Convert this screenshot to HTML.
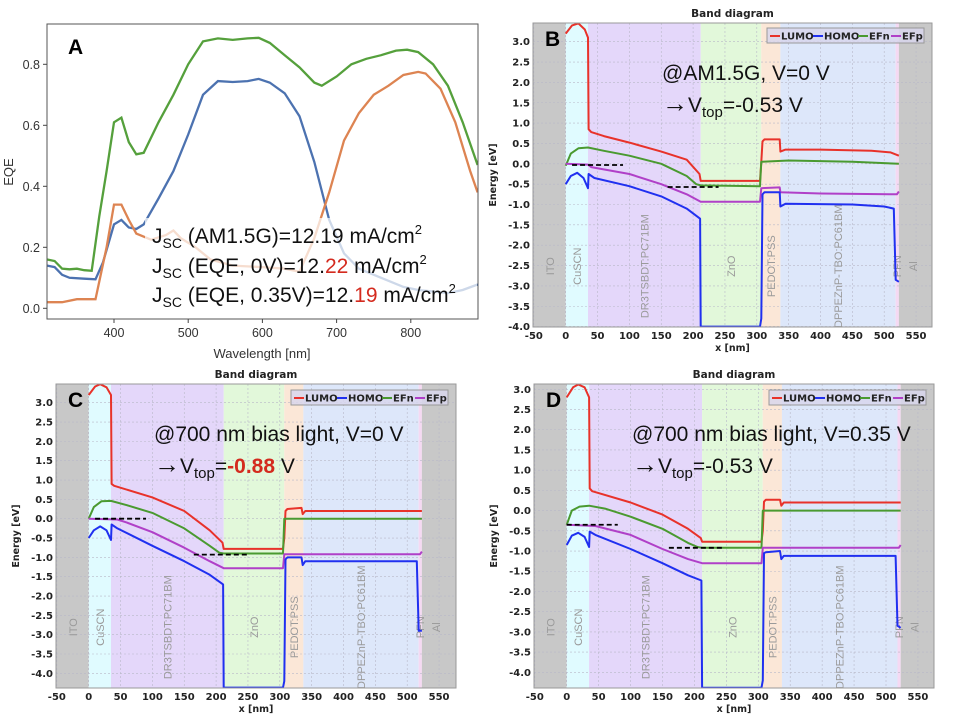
<!DOCTYPE html>
<html><head><meta charset="utf-8">
<style>
html,body{margin:0;padding:0;background:#fff;}
svg{display:block;}
</style></head>
<body>
<svg id="fig" width="963" height="724" viewBox="0 0 963 724" xmlns="http://www.w3.org/2000/svg">
</svg>
<script>
// ===== Panel A data (EQE vs wavelength) =====
const eqeXTicks = [400, 500, 600, 700, 800];
const eqeYTicks = [0.0, 0.2, 0.4, 0.6, 0.8];
const greenWl = [310,320,330,340,350,360,370,380,390,400,410,420,430,440,460,480,500,520,540,560,580,595,610,630,650,670,680,700,720,740,760,780,795,810,830,850,870,890];
const greenEqe = [.16,.155,.13,.128,.13,.125,.123,.3,.45,.61,.625,.545,.505,.51,.61,.7,.8,.875,.885,.88,.885,.887,.87,.83,.79,.74,.73,.76,.8,.818,.83,.845,.848,.84,.8,.73,.61,.47];
const blueWl = [310,320,330,340,360,375,385,400,410,420,430,440,460,480,500,520,540,560,580,595,610,630,650,670,690,710,730,760,790,810,830,850,870,890];
const blueEqe = [.14,.135,.11,.1,.097,.095,.15,.275,.29,.265,.26,.275,.36,.45,.57,.7,.745,.742,.745,.752,.74,.705,.63,.48,.29,.18,.13,.1,.07,.06,.055,.05,.06,.078];
const orangeWl = [310,330,350,370,375,390,400,410,420,430,450,470,480,490,510,530,560,600,630,650,670,690,710,730,750,770,790,810,820,840,860,880,890];
const orangeEqe = [.02,.02,.03,.03,.03,.2,.34,.34,.29,.245,.225,.24,.255,.23,.2,.16,.14,.135,.13,.12,.23,.38,.55,.64,.7,.73,.765,.775,.77,.72,.61,.45,.38];

// ===== Band diagram data =====
const bandXTicks = [-50,0,50,100,150,200,250,300,350,400,450,500,550];
const layerNames = ["ITO","CuSCN","DR3TSBDT:PC71BM","ZnO","PEDOT:PSS","DPPEZnP-TBO:PC61BM","PFN","Al"];
const layerStart = [-60,0,35,212,307,337,518,523];
const layerEnd = [0,35,212,307,337,518,523,600];
const layerColors = ["#c8c8c8","#e0fbff","#e4d7fa","#e2f8da","#fbe7d7","#dde7fa","#f5d9f3","#c8c8c8"];

const bX_L = [0,10,20,30,35,36,40,60,100,150,190,210,212,305,307,309,312,336,337,345,400,480,510,523];
const bY_L = [3.2,3.4,3.45,3.3,3.1,0.85,0.78,0.68,0.52,0.3,0.1,-0.25,-0.42,-0.42,0.05,0.55,0.6,0.6,0.3,0.35,0.35,0.32,0.28,0.2];
const bX_H = [0,8,18,28,35,36,45,100,150,190,211,212,305,307,309,312,336,337,345,450,500,515,518,523];
const bY_H = [-0.5,-0.3,-0.22,-0.35,-0.6,-0.25,-0.35,-0.55,-0.8,-1.1,-1.35,-4.0,-4.0,-3.8,-0.75,-0.7,-0.7,-1.05,-0.98,-1.0,-1.05,-1.1,-2.85,-2.9];
const bX_N = [0,8,20,35,60,100,150,190,205,212,305,307,350,450,523];
const bY_N = [-0.05,0.25,0.38,0.4,0.32,0.2,0.0,-0.3,-0.5,-0.53,-0.55,0.05,0.08,0.05,0.0];
const bX_P = [0,35,40,100,150,190,212,305,307,336,337,400,520,523];
const bY_P = [0,-0.02,-0.08,-0.25,-0.5,-0.75,-0.93,-0.93,-0.6,-0.58,-0.7,-0.73,-0.75,-0.68];
const bDashX1 = [10,160], bDashX2 = [90,240], bDashY = [-0.03,-0.57];

const cX_L = [0,10,18,28,35,36,40,100,150,190,210,212,305,307,309,312,334,336,340,523];
const cY_L = [3.2,3.42,3.48,3.4,3.2,0.9,0.85,0.55,0.2,-0.3,-0.62,-0.78,-0.78,-0.5,0.2,0.25,0.28,0.12,0.2,0.2];
const cX_H = [0,8,18,28,35,36,45,100,150,190,211,212,305,307,309,312,334,336,340,515,518,523];
const cY_H = [-0.5,-0.3,-0.2,-0.3,-0.55,-0.15,-0.25,-0.7,-1.1,-1.45,-1.7,-4.37,-4.37,-4.2,-1.05,-1.0,-1.0,-1.2,-1.1,-1.1,-2.9,-2.9];
const cX_N = [0,8,20,35,60,100,150,190,205,212,305,307,523];
const cY_N = [0,0.3,0.45,0.46,0.35,0.15,-0.25,-0.7,-0.88,-0.9,-0.9,0.0,0.0];
const cX_P = [0,45,60,100,150,190,212,305,307,520,523];
const cY_P = [0,-0.02,-0.1,-0.35,-0.75,-1.1,-1.28,-1.28,-0.92,-0.92,-0.85];
const cDashX1 = [10,165], cDashX2 = [90,250], cDashY = [0.0,-0.93];

const dX_L = [0,10,18,28,35,36,40,100,150,190,210,212,305,307,309,312,334,336,340,523];
const dY_L = [2.8,3.05,3.12,3.05,2.8,0.55,0.48,0.2,-0.1,-0.45,-0.68,-0.77,-0.77,-0.5,0.22,0.27,0.27,0.12,0.2,0.2];
const dX_H = [0,8,18,28,35,36,45,100,150,190,211,212,305,307,309,312,334,336,340,515,518,523];
const dY_H = [-0.85,-0.62,-0.55,-0.65,-0.9,-0.52,-0.6,-0.95,-1.3,-1.6,-1.73,-4.38,-4.38,-4.2,-1.05,-1.03,-1.0,-1.2,-1.12,-1.12,-2.85,-2.9];
const dX_N = [0,8,20,35,60,100,150,190,205,212,305,307,523];
const dY_N = [-0.35,0.0,0.1,0.12,0.05,-0.15,-0.45,-0.8,-0.9,-0.92,-0.92,0,0];
const dX_P = [0,45,100,150,190,212,305,307,520,523];
const dY_P = [-0.35,-0.38,-0.6,-0.95,-1.2,-1.3,-1.3,-0.92,-0.92,-0.85];
const dDashX1 = [0,160], dDashX2 = [80,245], dDashY = [-0.35,-0.92];

const NS = "http://www.w3.org/2000/svg";
const svg = document.getElementById("fig");
function mk(tag, attrs, parent, text){
  const e = document.createElementNS(NS, tag);
  for (const k in attrs) e.setAttribute(k, attrs[k]);
  if (text !== undefined) e.textContent = text;
  (parent || svg).appendChild(e);
  return e;
}
function pathFrom(xs, ys, sx, sy){
  let d = "";
  for (let i = 0; i < xs.length; i++) d += (i ? "L" : "M") + sx(xs[i]).toFixed(1) + "," + sy(ys[i]).toFixed(1);
  return d;
}

// ===== Panel A =====
(function(){
  const g = mk("g", {});
  
  
  const L=47, R=478, T=24, B=319;
  const sx = v => 114 + (v - 400) * 0.742;
  const sy = v => 308.3 - v * 305;
  const cp = mk("clipPath", {id:"clipA"}, g);
  mk("rect", {x:L, y:T, width:R-L, height:B-T}, cp);
  const series = [[greenWl, greenEqe, "#55a03c", "eqe-green"],[blueWl, blueEqe, "#4c72b0", "eqe-blue"],[orangeWl, orangeEqe, "#dd8452", "eqe-orange"]];
  for (const s of series){
    const p = mk("path", {d: pathFrom(s[0], s[1], sx, sy), fill:"none", stroke:s[2], "stroke-width":2.3, "clip-path":"url(#clipA)"}, g);
    
    
  }
  const fr = mk("rect", {x:L, y:T, width:R-L, height:B-T, fill:"none", stroke:"#555", "stroke-width":1}, g);
  
  
  for (const t of eqeXTicks){
    mk("line", {x1:sx(t), x2:sx(t), y1:B, y2:B+4, stroke:"#444"}, g);
    const tl = mk("text", {x:sx(t), y:B+18, "text-anchor":"middle", "font-size":12.5, fill:"#333", "font-family":"Liberation Sans, sans-serif"}, g, String(t));
    
    
  }
  for (const t of eqeYTicks){
    mk("line", {x1:L-4, x2:L, y1:sy(t), y2:sy(t), stroke:"#444"}, g);
    const tl = mk("text", {x:L-7, y:sy(t)+4.5, "text-anchor":"end", "font-size":12.5, fill:"#333", "font-family":"Liberation Sans, sans-serif"}, g, t.toFixed(1));
    
    
  }
  const xt = mk("text", {x:262, y:358, "text-anchor":"middle", "font-size":13, fill:"#333", "font-family":"Liberation Sans, sans-serif"}, g, "Wavelength [nm]");
  
  
  const yt = mk("text", {x:13, y:172, "text-anchor":"middle", "font-size":13, fill:"#333", "font-family":"Liberation Sans, sans-serif", transform:"rotate(-90 13 172)"}, g, "EQE");
  
  
  const lab = mk("text", {x:68, y:54, "font-size":21, "font-weight":"bold", fill:"#000", "font-family":"Liberation Sans, sans-serif"}, g, "A");
  
  
  const bg = mk("rect", {x:145, y:218, width:332, height:90, fill:"#fff", opacity:0.72}, g);
  
  
  const lines = [["(AM1.5G)=12.19 mA/cm", null, 243],["(EQE, 0V)=12.", "22", 273],["(EQE, 0.35V)=12.", "19", 302]];
  for (const ln of lines){
    const t = mk("text", {x:152, y:ln[2], "font-size":21, fill:"#111", "font-family":"Liberation Sans, sans-serif"}, g);
    
    
    mk("tspan", {}, t, "J");
    mk("tspan", {"font-size":14, dy:5}, t, "SC");
    mk("tspan", {dy:-5}, t, " " + ln[0]);
    if (ln[1]){ mk("tspan", {fill:"#d42a1e"}, t, ln[1]); mk("tspan", {}, t, " mA/cm"); }
    mk("tspan", {"font-size":13, dy:-9}, t, "2");
  }
})();

// ===== Band diagram panels =====
function band(cfg){
  const g = mk("g", {});
  
  
  const {L,R,T,B,x0,pxPerNm,yRef,pxPerEv} = cfg;
  const sx = v => x0 + v * pxPerNm;
  const sy = v => yRef - v * pxPerEv;
  const cid = "clip" + cfg.letter;
  const cp = mk("clipPath", {id:cid}, g);
  mk("rect", {x:L, y:T, width:R-L, height:B-T}, cp);
  const cg = mk("g", {"clip-path":"url(#"+cid+")"}, g);
  for (let i=0;i<layerNames.length;i++){
    const r = mk("rect", {x:sx(layerStart[i]), y:T, width:sx(layerEnd[i])-sx(layerStart[i]), height:B-T, fill:layerColors[i]}, cg);
    
    
  }
  for (const t of bandXTicks){ mk("line", {x1:sx(t), x2:sx(t), y1:T, y2:B, stroke:"#b8b8c8", "stroke-width":0.6, "stroke-dasharray":"2,2"}, cg); }
  for (const t of cfg.yTicks){ mk("line", {x1:L, x2:R, y1:sy(t), y2:sy(t), stroke:"#b8b8c8", "stroke-width":0.6, "stroke-dasharray":"2,2"}, cg); }
  const ly = T + (B-T)*0.8;
  for (let i=0;i<layerNames.length;i++){
    const cx = (sx(layerStart[i]) + sx(Math.min(layerEnd[i], 560)))/2 + 4;
    const xx = layerNames[i]==="ITO" ? sx(-25)+4 : (layerNames[i]==="Al" ? sx(545)+4 : cx);
    const t = mk("text", {x:xx, y:ly, "text-anchor":"middle", "font-size":11, fill:"#9a9a9a", "font-family":"Liberation Sans, sans-serif", transform:"rotate(-90 "+xx+" "+ly+")"}, cg, layerNames[i]);
    
    
  }
  const curves = [[cfg.xL,cfg.yL,"#e8322a","lumo-line"],[cfg.xN,cfg.yN,"#4a9a30","efn-line"],[cfg.xP,cfg.yP,"#b040c8","efp-line"],[cfg.xH,cfg.yH,"#2030f0","homo-line"]];
  for (const c of curves){
    const p = mk("path", {d:pathFrom(c[0],c[1],sx,sy), fill:"none", stroke:c[2], "stroke-width":2, "stroke-linejoin":"round"}, cg);
    
    
  }
  for (let i=0;i<cfg.dY.length;i++){
    const dl = mk("line", {x1:sx(cfg.dX1[i]), x2:sx(cfg.dX2[i]), y1:sy(cfg.dY[i]), y2:sy(cfg.dY[i]), stroke:"#000", "stroke-width":1.8, "stroke-dasharray":"5,3"}, cg);
    
    
  }
  mk("rect", {x:L, y:T, width:R-L, height:B-T, fill:"none", stroke:"#999", "stroke-width":1}, g);
  for (const t of bandXTicks){
    const tl = mk("text", {x:sx(t), y:B+12, "text-anchor":"middle", "font-size":10, "font-weight":"bold", fill:"#222", "font-family":"DejaVu Sans, sans-serif"}, g, String(t));
    
    
  }
  for (const t of cfg.yTicks){
    const tl = mk("text", {x:L-3, y:sy(t)+3.5, "text-anchor":"end", "font-size":10, "font-weight":"bold", fill:"#222", "font-family":"DejaVu Sans, sans-serif"}, g, t.toFixed(1));
    
    
  }
  const xt = mk("text", {x:(L+R)/2, y:B+24, "text-anchor":"middle", "font-size":9.5, "font-weight":"bold", fill:"#222", "font-family":"DejaVu Sans, sans-serif"}, g, "x [nm]");
  
  
  const yx = L-37, yy = (T+B)/2;
  const yt = mk("text", {x:yx, y:yy, "text-anchor":"middle", "font-size":9.5, "font-weight":"bold", fill:"#222", "font-family":"DejaVu Sans, sans-serif", transform:"rotate(-90 "+yx+" "+yy+")"}, g, "Energy [eV]");
  
  
  const tt = mk("text", {x:(L+R)/2, y:T-6, "text-anchor":"middle", "font-size":10.5, "font-weight":"bold", fill:"#222", "font-family":"DejaVu Sans, sans-serif"}, g, "Band diagram");
  
  
  const lg = mk("g", {}, g);
  
  
  const lx = cfg.legX, lyy = cfg.legY;
  mk("rect", {x:lx, y:lyy, width:157, height:15, fill:"#d8d6ec", "fill-opacity":0.85, stroke:"#999", "stroke-width":1}, lg);
  const items = [["LUMO","#e8322a",3],["HOMO","#2030f0",46],["EFn","#4a9a30",91],["EFp","#b040c8",124]];
  for (const it of items){
    mk("line", {x1:lx+it[2], x2:lx+it[2]+10, y1:lyy+8, y2:lyy+8, stroke:it[1], "stroke-width":2}, lg);
    const t = mk("text", {x:lx+it[2]+11, y:lyy+11.5, "font-size":10, "font-weight":"bold", fill:"#222", "font-family":"DejaVu Sans, sans-serif"}, lg, it[0]);
    
    
  }
  const pl = mk("text", {x:L+12, y:T+23, "font-size":21, "font-weight":"bold", fill:"#000", "font-family":"Liberation Sans, sans-serif"}, g, cfg.letter);
  
  
  const a1 = mk("text", {x:cfg.annX, y:cfg.annY, "font-size":21, fill:"#111", "font-family":"Liberation Sans, sans-serif"}, g, cfg.ann1);
  
  
  const a2 = mk("text", {x:cfg.annX, y:cfg.annY+32, "font-size":21, fill:"#111", "font-family":"Liberation Sans, sans-serif"}, g);
  
  
  mk("tspan", {"font-size":26}, a2, "→");
  mk("tspan", {}, a2, "V");
  mk("tspan", {"font-size":15, dy:5}, a2, "top");
  mk("tspan", {dy:-5}, a2, "=");
  if (cfg.red) mk("tspan", {fill:"#d42a1e", "font-weight":"bold"}, a2, cfg.vtop);
  else mk("tspan", {}, a2, cfg.vtop);
  mk("tspan", {}, a2, " V");
}
const yt1 = [3.0,2.5,2.0,1.5,1.0,0.5,0.0,-0.5,-1.0,-1.5,-2.0,-2.5,-3.0,-3.5,-4.0];
band({name:"band-diagram-b", letter:"B", L:533, R:932, T:23, B:327, x0:565.7, pxPerNm:0.637, yRef:163.8, pxPerEv:40.7, yTicks:yt1,
  xL:bX_L,yL:bY_L,xH:bX_H,yH:bY_H,xN:bX_N,yN:bY_N,xP:bX_P,yP:bY_P,dX1:bDashX1,dX2:bDashX2,dY:bDashY,
  legX:767, legY:28, annX:662, annY:80, ann1:"@AM1.5G, V=0 V", vtop:"-0.53", red:false});
band({name:"band-diagram-c", letter:"C", L:56, R:456, T:384, B:688, x0:88.7, pxPerNm:0.637, yRef:518.7, pxPerEv:38.66, yTicks:yt1,
  xL:cX_L,yL:cY_L,xH:cX_H,yH:cY_H,xN:cX_N,yN:cY_N,xP:cX_P,yP:cY_P,dX1:cDashX1,dX2:cDashX2,dY:cDashY,
  legX:291, legY:390, annX:154, annY:441, ann1:"@700 nm bias light, V=0 V", vtop:"-0.88", red:true});
band({name:"band-diagram-d", letter:"D", L:534, R:934, T:384, B:688, x0:566.7, pxPerNm:0.6386, yRef:510.6, pxPerEv:40.43, yTicks:yt1,
  xL:dX_L,yL:dY_L,xH:dX_H,yH:dY_H,xN:dX_N,yN:dY_N,xP:dX_P,yP:dY_P,dX1:dDashX1,dX2:dDashX2,dY:dDashY,
  legX:769, legY:390, annX:632, annY:441, ann1:"@700 nm bias light, V=0.35 V", vtop:"-0.53", red:false});
</script>
</body></html>
